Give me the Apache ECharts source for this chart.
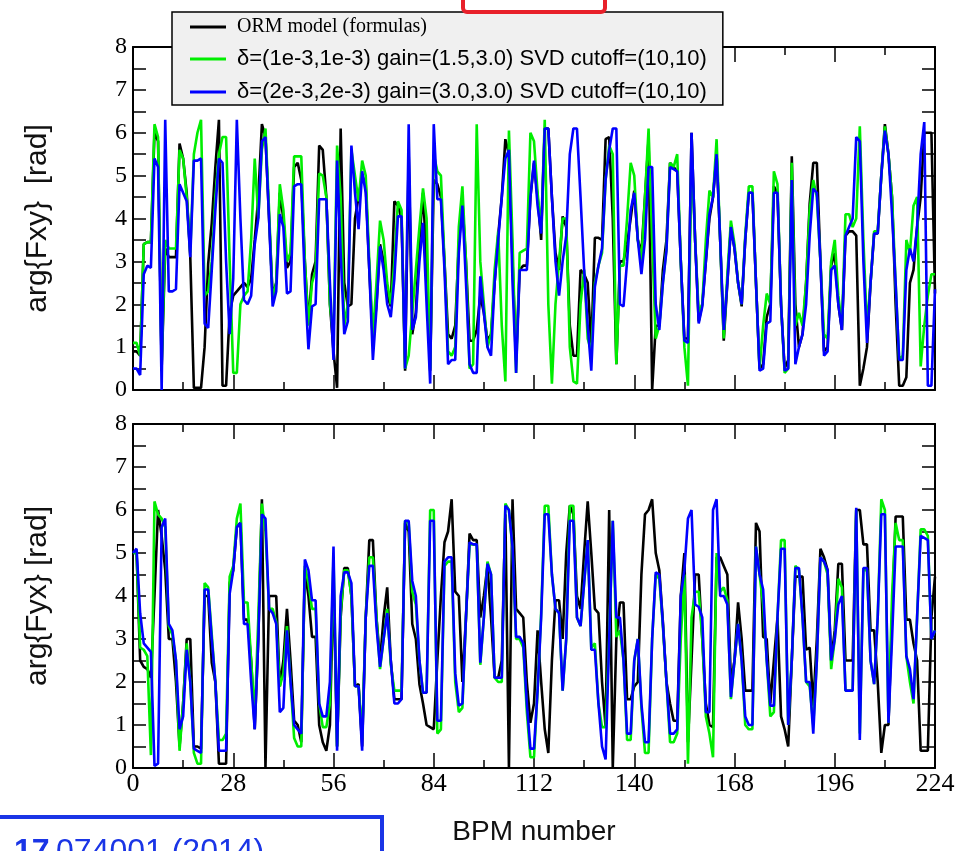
<!DOCTYPE html>
<html>
<head>
<meta charset="utf-8">
<script src="https://cdn.jsdelivr.net/npm/echarts@6/dist/echarts.min.js"></script>
<style>
html,body{margin:0;padding:0;background:#fff;}
#chart{width:961px;height:851px;}
</style>
</head>
<body>
<div id="chart"></div>
<script>
// ---------- data ----------
const seriesNames = [
  'ORM model (formulas)',
  '\u03b4=(1e-3,1e-3) gain=(1.5,3.0) SVD cutoff=(10,10)',
  '\u03b4=(2e-3,2e-3) gain=(3.0,3.0) SVD cutoff=(10,10)'
];
const xTicks = [0, 28, 56, 84, 112, 140, 168, 196, 224];
const yTicks = [0, 1, 2, 3, 4, 5, 6, 7, 8];

// Top panel: arg{Fxy}, one value per BPM 0..224
const fxyModel = [0.9,
0.9,0.8,3.4,3.45,3.45,6.0,5.8,0.5,3.3,3.1,
3.1,3.1,5.75,5.4,4.6,3.1,0.05,0.05,0.05,1.0,
2.95,3.9,5.2,6.3,0.1,0.1,1.8,2.2,2.3,2.4,
2.5,2.4,2.6,3.5,4.5,6.2,5.9,4.0,2.2,2.5,
4.6,4.0,2.85,3.0,5.2,5.3,4.9,3.0,1.55,2.7,
3.0,5.7,5.6,4.5,2.0,0.9,0.05,6.1,2.5,1.95,
2.0,4.0,4.5,5.0,4.8,2.8,1.1,2.0,3.4,3.0,
2.2,1.95,4.4,4.3,4.0,0.45,5.5,1.3,1.8,3.5,
4.6,3.0,0.45,4.9,4.8,4.5,3.0,1.3,1.2,1.5,
3.4,4.4,3.0,1.15,1.15,1.4,2.2,1.8,1.15,1.3,
2.5,3.6,4.5,5.85,5.5,3.0,0.7,2.8,2.9,2.9,
4.5,5.3,4.5,3.5,6.1,6.1,4.5,3.2,2.8,4.05,
3.8,1.5,0.8,0.8,2.8,2.7,2.5,1.0,3.55,3.55,
3.5,5.85,5.9,4.0,0.6,3.0,3.0,3.4,4.0,4.65,
3.5,3.2,4.5,5.85,0.0,1.5,1.5,2.8,3.5,5.3,
5.2,5.1,3.0,1.2,1.2,6.0,3.5,1.6,2.0,3.0,
4.0,4.5,5.5,3.5,1.15,2.5,3.8,3.3,2.5,1.95,
3.5,4.6,4.6,2.5,0.5,0.6,1.7,2.0,4.75,4.6,
2.0,0.5,0.7,5.45,2.0,1.0,1.3,2.5,4.35,5.3,
5.3,3.0,0.9,1.0,2.9,3.2,2.0,1.4,3.6,3.7,
3.7,3.6,0.1,0.5,1.0,2.5,3.65,3.65,5.0,6.2,
5.5,4.5,2.0,0.1,0.1,0.3,2.5,2.8,3.8,4.5,
6.0,6.0,6.0,2.25];
const fxyGain15 = [1.1,
1.1,0.8,3.4,3.45,3.45,6.2,5.9,0.6,3.5,3.3,
3.3,3.3,5.6,5.4,4.5,3.2,5.5,6.0,6.3,2.2,
2.3,3.0,4.5,5.5,5.9,5.9,3.0,0.4,0.4,2.0,
2.2,2.3,3.5,5.4,4.0,5.6,6.1,4.2,2.1,2.5,
4.8,4.2,3.0,3.2,5.45,5.45,5.45,3.0,1.5,2.5,
2.8,5.05,5.0,4.5,2.0,1.2,5.7,4.5,1.5,2.0,
5.6,5.0,4.4,5.35,5.0,3.0,1.25,2.5,3.95,3.5,
2.5,2.0,3.0,4.4,4.2,0.5,0.8,1.8,2.8,3.8,
4.7,4.0,0.5,5.5,5.1,5.0,3.0,0.9,0.8,1.0,
3.8,4.75,3.0,0.5,0.6,6.2,3.0,2.0,1.0,1.3,
2.8,3.7,1.5,0.2,6.05,3.5,0.4,3.2,3.25,3.3,
6.0,5.8,4.6,3.7,6.3,2.0,0.15,2.0,3.0,4.0,
4.0,1.0,0.2,0.15,2.0,2.8,1.2,0.9,2.5,2.9,
3.2,4.9,5.7,5.5,0.6,2.9,2.9,4.0,5.3,5.0,
3.5,3.0,4.5,6.1,3.5,1.2,1.5,2.5,3.3,5.3,
5.2,5.5,3.0,1.0,0.1,5.5,3.5,1.8,2.0,3.5,
4.65,4.5,5.85,3.5,1.2,2.7,3.95,3.4,2.5,2.0,
3.6,4.75,4.75,2.5,0.5,1.5,2.25,2.0,5.1,4.8,
2.0,0.4,0.5,5.3,1.5,1.8,1.5,2.5,4.2,4.9,
4.5,3.0,1.3,1.2,3.0,3.5,2.2,1.5,4.1,4.1,
3.8,4.0,6.15,3.5,1.45,2.5,3.7,3.7,5.0,6.15,
5.5,4.5,2.5,0.7,0.8,3.5,3.2,4.3,4.5,0.55,
1.5,2.2,2.7,2.7];
const fxyGain30 = [0.5,
0.5,0.35,2.7,2.9,2.85,5.4,5.2,0.0,6.3,2.3,
2.3,2.35,4.8,4.6,4.4,3.1,5.35,5.35,5.4,1.55,
1.45,2.8,4.2,5.4,5.3,3.0,1.3,2.6,6.3,4.0,
2.1,2.0,2.2,3.4,4.0,5.8,5.9,4.0,1.95,2.3,
4.1,3.8,2.25,2.3,4.75,4.8,4.8,2.5,0.95,1.95,
2.0,4.45,4.45,4.45,2.5,0.7,5.35,3.2,1.3,1.6,
5.7,4.6,3.75,5.1,4.6,2.8,0.7,1.9,3.35,2.8,
2.0,1.7,2.6,4.05,4.05,0.5,6.2,1.4,1.7,3.0,
3.9,2.0,0.15,6.2,4.45,4.45,2.8,0.6,0.7,0.7,
3.2,4.3,2.5,0.6,0.4,0.4,2.65,1.8,1.0,0.8,
2.5,3.5,4.5,5.4,5.6,2.5,0.4,2.8,2.8,2.8,
4.5,5.35,4.3,3.65,6.1,6.1,4.5,3.0,2.2,3.0,
3.6,5.5,6.1,6.1,4.5,2.8,1.5,0.45,2.4,2.9,
3.3,4.9,5.6,6.1,6.1,2.0,1.95,3.0,4.2,4.6,
3.5,2.7,3.5,5.2,5.2,2.0,1.4,2.5,3.25,5.2,
5.15,5.1,3.0,1.15,1.1,6.0,3.5,1.55,1.95,3.0,
4.1,4.5,5.5,3.5,1.4,2.5,3.8,3.3,2.5,2.0,
3.5,4.6,4.6,2.5,0.45,0.5,1.55,1.6,4.6,4.6,
2.0,0.45,0.5,4.9,0.6,1.0,1.3,2.0,3.6,4.7,
4.6,3.0,0.8,0.9,2.8,2.9,2.0,1.4,3.6,3.8,
4.0,5.9,5.8,3.0,1.1,2.5,3.65,3.65,5.0,6.05,
5.5,4.1,2.5,0.7,0.7,2.8,3.3,3.0,3.8,5.5,
6.25,0.1,0.1,2.35];

// Bottom panel: arg{Fyx}, one value per BPM 0..224
const fyxModel = [
5.0,5.0,2.5,2.35,2.3,2.1,4.0,6.0,5.4,4.6,
3.0,3.0,2.0,0.5,1.5,3.0,3.0,0.5,0.5,0.45,
4.0,4.0,2.45,2.0,0.1,0.1,0.1,4.3,4.6,5.6,
5.7,3.45,3.45,2.5,0.9,3.0,6.25,0.0,4.0,4.0,
4.0,1.9,2.5,3.7,2.5,1.1,1.0,0.6,4.6,4.0,
3.05,3.05,1.0,0.6,0.4,1.0,4.4,0.5,3.5,4.65,
4.65,4.0,1.9,1.95,0.5,3.5,5.3,5.3,3.5,2.5,
3.5,4.2,2.5,1.6,1.6,1.6,5.7,5.5,3.35,3.0,
1.95,1.5,1.0,0.95,0.9,2.5,4.0,5.25,5.5,6.25,
4.1,4.0,2.0,3.5,5.45,5.3,5.3,3.5,4.0,4.7,
3.5,2.1,2.1,2.5,5.9,0.0,6.25,3.7,3.6,3.5,
2.0,1.05,1.5,3.2,2.0,0.9,0.35,2.5,3.9,3.9,
3.0,5.0,6.1,5.9,4.0,3.7,5.0,6.2,5.0,3.7,
3.6,2.0,0.95,6.0,0.0,3.0,3.85,3.85,1.6,1.6,
1.9,2.0,4.5,5.9,6.0,6.25,5.0,4.6,3.4,2.0,
1.5,1.1,1.1,4.0,5.0,0.6,2.5,4.5,4.5,3.0,
1.5,1.0,0.95,4.9,4.9,4.7,4.5,2.0,2.5,3.85,
3.0,1.8,1.8,1.8,5.7,5.5,3.05,3.0,1.5,2.5,
3.5,1.2,0.9,0.5,2.5,4.45,4.45,4.45,2.75,2.8,
1.45,3.0,5.1,4.9,4.6,2.5,3.2,4.75,4.75,2.5,
2.5,2.5,6.0,6.0,5.2,5.2,3.2,3.2,2.0,0.35,
1.0,1.0,3.5,5.85,5.85,5.85,3.45,3.45,2.9,2.5,
0.4,0.4,0.4,3.5,4.45];
const fyxGain15 = [
5.0,5.0,2.8,2.75,2.6,0.3,6.2,5.9,5.8,5.6,
3.3,3.1,2.5,0.4,1.5,2.9,2.0,0.35,0.1,0.1,
4.3,4.2,3.1,2.0,0.65,0.65,0.8,4.45,4.7,5.8,
6.15,3.85,3.85,2.5,1.2,3.5,6.15,5.5,3.7,3.7,
3.4,1.9,2.2,3.3,2.0,0.7,0.5,0.5,4.7,4.3,
3.7,3.7,1.5,0.95,0.95,1.5,4.9,0.5,3.6,4.6,
4.6,4.0,1.9,1.9,0.7,3.5,4.9,4.9,3.5,2.3,
3.0,3.7,2.4,1.8,1.8,1.8,5.75,5.7,4.1,3.8,
2.5,1.75,1.75,6.0,6.0,0.8,0.9,4.7,4.8,4.8,
2.0,1.3,1.4,3.5,5.2,5.2,5.2,2.4,3.5,4.8,
4.5,2.1,2.0,2.0,6.15,6.0,5.1,3.0,3.0,2.8,
1.3,0.25,0.25,1.8,3.6,6.1,6.1,4.5,3.7,3.6,
1.8,3.0,6.1,6.1,3.5,3.3,4.3,5.3,2.8,2.9,
1.5,0.95,0.95,3.0,5.75,3.05,3.2,2.5,0.65,0.65,
2.5,3.0,1.4,0.35,0.35,3.0,4.5,4.4,3.3,2.0,
0.6,0.6,0.8,3.0,4.5,0.1,3.5,4.1,4.1,3.0,
1.2,0.8,0.25,5.0,4.1,4.2,3.9,1.6,2.5,3.35,
2.5,1.0,0.9,0.9,5.15,4.5,3.8,2.5,1.2,1.3,
3.5,5.3,5.3,1.0,2.5,4.7,4.6,3.5,2.0,1.9,
1.0,2.5,4.9,4.8,4.5,2.3,3.0,4.4,4.2,1.8,
1.8,1.8,6.0,0.8,4.6,4.6,2.5,1.95,3.5,6.25,
6.0,1.05,4.0,5.7,5.3,5.3,2.6,2.0,1.5,3.5,
5.55,5.55,5.4,3.0,3.2];
const fyxGain30 = [
5.0,5.1,3.6,2.9,2.8,2.7,0.05,0.1,5.6,5.8,
3.35,3.2,2.5,0.9,1.2,2.75,2.0,0.45,0.4,0.35,
4.15,4.15,3.0,2.0,0.4,0.4,0.4,4.05,4.6,5.6,
5.7,3.35,3.35,2.0,0.9,3.0,5.9,5.8,3.7,3.6,
3.35,1.3,1.4,3.2,2.0,1.0,0.9,0.8,4.85,4.6,
3.9,3.9,1.5,1.2,1.2,2.0,5.15,0.4,4.0,4.55,
4.55,4.3,1.9,1.9,0.4,3.5,4.7,4.7,3.3,2.35,
3.0,3.6,2.5,1.5,1.5,1.6,5.75,5.75,4.35,4.0,
2.5,1.75,1.75,5.75,5.75,1.1,1.1,4.8,4.9,4.9,
2.2,1.45,1.5,3.5,5.25,5.2,5.2,2.45,3.5,4.75,
4.5,2.1,2.1,2.1,6.1,6.0,5.15,3.05,3.05,2.9,
1.5,0.45,0.45,1.8,3.5,5.9,5.9,4.5,3.7,3.6,
1.8,3.0,5.75,5.75,3.5,3.3,4.3,5.3,2.75,2.75,
1.5,0.5,0.2,3.0,5.75,3.5,3.5,2.5,0.8,0.8,
2.5,3.0,1.5,0.6,0.6,3.0,4.55,4.5,3.35,2.0,
0.8,0.8,0.9,4.0,4.6,5.8,6.0,3.8,3.75,3.5,
1.3,1.3,6.0,6.25,4.0,4.0,3.8,1.65,2.5,3.35,
2.5,1.2,1.0,1.0,5.15,4.5,4.15,2.5,1.45,1.45,
3.5,5.1,5.1,1.0,2.5,4.65,4.65,3.5,2.0,2.0,
0.8,2.5,4.9,4.8,4.6,2.5,3.0,3.8,4.0,1.8,
1.8,1.8,6.05,0.65,4.65,4.65,2.5,1.95,3.5,5.9,
5.9,1.05,3.0,5.15,5.15,5.15,2.6,2.3,1.6,3.5,
5.4,5.35,5.3,3.0,3.2];

// ---------- chart ----------
const colors = ['#000000', '#00ee00', '#0000ff'];
const serif = 'Liberation Serif';
const sans = 'Liberation Sans';

function pairs(arr) { return arr.map((v, i) => [i, v]); }

function xAxisCfg(gridIndex, position, showLabels, name) {
  return {
    type: 'value', gridIndex, position,
    min: xTicks[0], max: xTicks[xTicks.length - 1], interval: xTicks[1] - xTicks[0],
    axisLine: { show: true, onZero: false, lineStyle: { color: '#000', width: 2 } },
    axisTick: { show: true, inside: true, length: 15, lineStyle: { color: '#000', width: 1.5 } },
    minorTick: { show: true, splitNumber: 2, length: 8, lineStyle: { color: '#000', width: 1.5 } },
    axisLabel: { show: showLabels, color: '#000', fontFamily: serif, fontSize: 26, margin: 3 },
    splitLine: { show: false },
    name: name || '', nameLocation: 'middle', nameGap: 50,
    nameTextStyle: { fontFamily: sans, fontSize: 28, color: '#111' }
  };
}
function yAxisCfg(gridIndex, position, showLabels, name) {
  return {
    type: 'value', gridIndex, position,
    min: yTicks[0], max: yTicks[yTicks.length - 1], interval: 1,
    axisLine: { show: true, onZero: false, lineStyle: { color: '#000', width: 2 } },
    axisTick: { show: true, inside: true, length: 13, lineStyle: { color: '#000', width: 1.5 } },
    minorTick: { show: true, splitNumber: 2, length: 13, lineStyle: { color: '#000', width: 1.5 } },
    axisLabel: { show: showLabels, color: '#000', fontFamily: serif, fontSize: 24, margin: 6 },
    splitLine: { show: false },
    name: name || '', nameLocation: 'middle', nameGap: 80, nameRotate: 90,
    nameTextStyle: { fontFamily: sans, fontSize: 30, color: '#111' }
  };
}

function lineSeries(name, data, color, xi, yi, z) {
  return {
    name, type: 'line', data: pairs(data), xAxisIndex: xi, yAxisIndex: yi,
    symbol: 'none', showSymbol: false, animation: false, z,
    lineStyle: { color, width: 2.6 }, itemStyle: { color }
  };
}

const chart = echarts.init(document.getElementById('chart'), null, { renderer: 'canvas' });
chart.setOption({
  backgroundColor: '#ffffff',
  animation: false,
  grid: [
    { left: 133, top: 47, width: 802, height: 343 },
    { left: 133, top: 424, width: 802, height: 344 }
  ],
  xAxis: [
    xAxisCfg(0, 'bottom', false),
    xAxisCfg(0, 'top', false),
    xAxisCfg(1, 'bottom', true, 'BPM number'),
    xAxisCfg(1, 'top', false)
  ],
  yAxis: [
    yAxisCfg(0, 'left', true, 'arg{Fxy}  [rad]'),
    yAxisCfg(0, 'right', false),
    yAxisCfg(1, 'left', true, 'arg{Fyx} [rad]'),
    yAxisCfg(1, 'right', false)
  ],
  legend: {
    data: [
      { name: seriesNames[0], textStyle: { fontFamily: serif, fontSize: 20 } },
      { name: seriesNames[1] },
      { name: seriesNames[2] }
    ],
    orient: 'vertical', left: 172, top: 12,
    backgroundColor: '#f0f0f0', borderColor: '#000', borderWidth: 1.5,
    padding: [5, 16, 2, 18], itemGap: 11, itemWidth: 36, itemHeight: 3, icon: 'rect',
    textStyle: { fontFamily: sans, fontSize: 22, color: '#000', padding: [0, 0, 0, 6] },
    z: 20, selectedMode: false
  },
  graphic: [
    { type: 'rect', z: 30, shape: { x: 463, y: -10, width: 142, height: 22, r: 4 },
      style: { fill: 'none', stroke: '#e8202a', lineWidth: 4 } },
    { type: 'rect', z: 30, shape: { x: -5, y: 817, width: 387, height: 60 },
      style: { fill: '#fff', stroke: '#1a35e6', lineWidth: 4 } },
    { type: 'text', z: 31, x: 14, y: 836,
      style: { text: '17', fontFamily: sans, fontSize: 32, fontWeight: 'bold', fill: '#1a35e6' } },
    { type: 'text', z: 31, x: 56, y: 836,
      style: { text: '074001 (2014)', fontFamily: sans, fontSize: 32, fill: '#1a35e6' } }
  ],
  series: [
    lineSeries(seriesNames[0], fxyModel, colors[0], 0, 0, 2),
    lineSeries(seriesNames[1], fxyGain15, colors[1], 0, 0, 3),
    lineSeries(seriesNames[2], fxyGain30, colors[2], 0, 0, 4),
    lineSeries(seriesNames[0], fyxModel, colors[0], 2, 2, 2),
    lineSeries(seriesNames[1], fyxGain15, colors[1], 2, 2, 3),
    lineSeries(seriesNames[2], fyxGain30, colors[2], 2, 2, 4)
  ]
});
</script>
</body>
</html>
